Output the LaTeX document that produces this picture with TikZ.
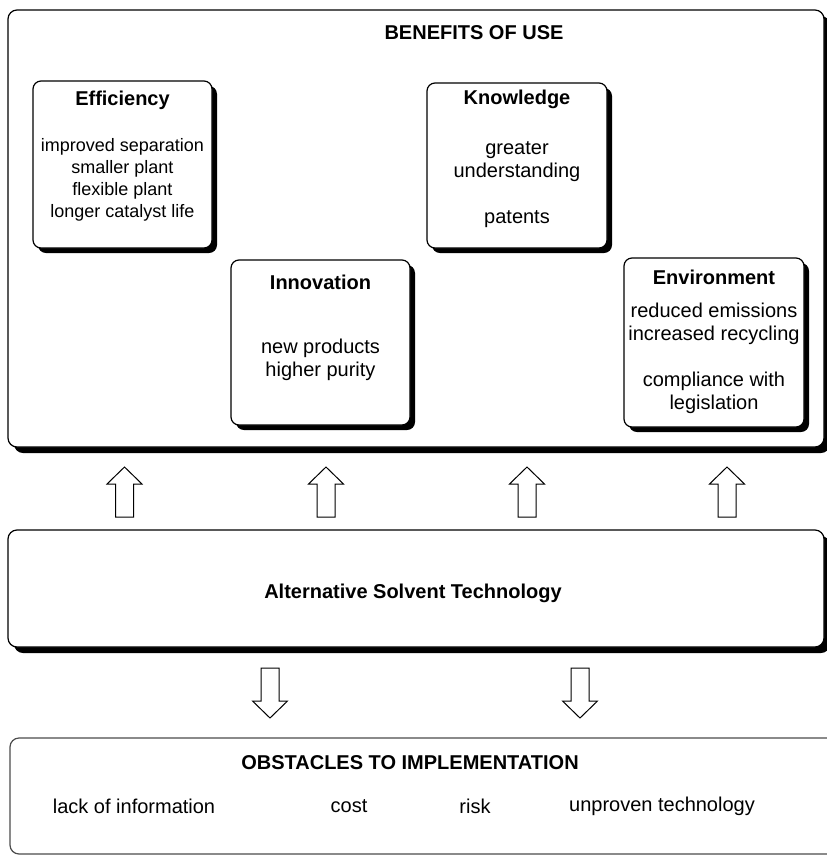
\documentclass[tikz,border=0pt]{standalone}
\usepackage{fontspec}
\setmainfont{Liberation Sans}
\usetikzlibrary{shadows}
\begin{document}
\begin{tikzpicture}[x=1pt,y=-1pt,
  box/.style={draw=black, line width=1.2pt, fill=white, rounded corners=8pt,
    drop shadow={shadow xshift=5pt, shadow yshift=-5pt, fill=black, opacity=1},
    inner sep=0pt},
  bigbox/.style={draw=black, line width=1.2pt, fill=white, rounded corners=9pt,
    drop shadow={shadow xshift=6pt, shadow yshift=-6pt, fill=black, opacity=1},
    inner sep=0pt},
  obsbox/.style={draw=black!70, line width=1.2pt, fill=white, rounded corners=9pt, inner sep=0pt},
  ttl/.style={font=\fontsize{20}{23}\selectfont\bfseries, inner sep=0pt},
  body/.style={font=\fontsize{20}{23}\selectfont, align=center, inner sep=0pt},
  smallbody/.style={font=\fontsize{18}{22}\selectfont, align=center, inner sep=0pt},
  arrowline/.style={draw=black, line width=1pt, fill=white, line join=miter},
  uparr/.pic={\path[arrowline] (-9,0) -- (-9,-33) -- (-17.5,-33) -- (0,-50) -- (17.5,-33) -- (9,-33) -- (9,0) -- cycle;},
  downarr/.pic={\path[arrowline] (-9,0) -- (-9,33) -- (-17.5,33) -- (0,50) -- (17.5,33) -- (9,33) -- (9,0) -- cycle;}
]
\useasboundingbox (0,0) rectangle (827,855);

% Benefits box
\node[bigbox, minimum width=816pt, minimum height=437pt] (benefits) at (416,228.5) {};
\node[ttl] (benefitsT) at (474,33) {BENEFITS OF USE};

% Efficiency
\node[box, minimum width=179pt, minimum height=167pt] (eff) at (122.5,164.5) {};
\node[ttl] (effT) at (122.5,100) {Efficiency};
\node[smallbody] (effB) at (122.5,180) {improved separation\\smaller plant\\flexible plant\\longer catalyst life};

% Knowledge
\node[box, minimum width=180pt, minimum height=165pt] (know) at (517,165.5) {};
\node[ttl] (knowT) at (517,99) {Knowledge};
\node[body] (knowB) at (517,184.5) {greater\\understanding\\[23pt]patents};

% Innovation
\node[box, minimum width=179pt, minimum height=165pt] (inno) at (320.5,342.5) {};
\node[ttl] (innoT) at (320.5,282) {Innovation};
\node[body] (innoB) at (320.5,360) {new products\\higher purity};

% Environment
\node[box, minimum width=180pt, minimum height=169pt] (env) at (714,342.5) {};
\node[ttl] (envT) at (714,277) {Environment};
\node[body] (envB) at (714,358.5) {reduced emissions\\increased recycling\\[23pt]compliance with\\legislation};

% Alternative
\node[bigbox, minimum width=816pt, minimum height=117pt] (alt) at (416,588.5) {};
\node[ttl] (altT) at (413,593) {Alternative Solvent Technology};

% Obstacles
\node[obsbox, minimum width=830pt, minimum height=116pt] (obs) at (425,796) {};
\node[ttl] (obsT) at (410,763) {OBSTACLES TO IMPLEMENTATION};
\node[body] (o1) at (134,806) {lack of information};
\node[body] (o2) at (349,806) {cost};
\node[body] (o3) at (475,806) {risk};
\node[body] (o4) at (662,806) {unproven technology};

% Up arrows
\pic at (124.5,517) {uparr};
\pic at (326,517) {uparr};
\pic at (527,517) {uparr};
\pic at (727,517) {uparr};

% Down arrows
\pic at (270,668) {downarr};
\pic at (580,668) {downarr};
\end{tikzpicture}
\end{document}
